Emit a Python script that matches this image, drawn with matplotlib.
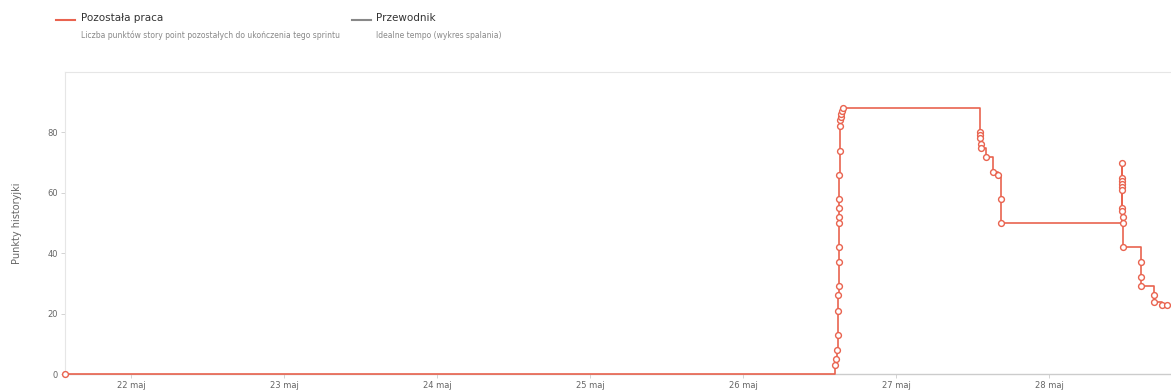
import matplotlib.pyplot as plt
import matplotlib.dates as mdates
import pandas as pd

# remaining work (story points) over time
times = [
    "2023-05-21 13:39",
    "2023-05-26 14:26", "2023-05-26 14:34", "2023-05-26 14:42", "2023-05-26 14:50",
    "2023-05-26 14:55", "2023-05-26 14:58", "2023-05-26 15:00", "2023-05-26 15:02",
    "2023-05-26 15:03", "2023-05-26 15:04", "2023-05-26 15:05", "2023-05-26 15:06",
    "2023-05-26 15:07", "2023-05-26 15:08", "2023-05-26 15:09", "2023-05-26 15:12",
    "2023-05-26 15:14", "2023-05-26 15:18", "2023-05-26 15:22", "2023-05-26 15:30",
    "2023-05-26 15:40",
    "2023-05-27 13:10", "2023-05-27 13:12", "2023-05-27 13:14", "2023-05-27 13:16",
    "2023-05-27 13:18", "2023-05-27 14:06", "2023-05-27 15:09", "2023-05-27 15:59",
    "2023-05-27 16:24", "2023-05-27 16:26",
    "2023-05-28 11:24", "2023-05-28 11:25", "2023-05-28 11:26", "2023-05-28 11:27",
    "2023-05-28 11:28", "2023-05-28 11:29", "2023-05-28 11:30", "2023-05-28 11:31",
    "2023-05-28 11:32", "2023-05-28 11:33", "2023-05-28 11:34",
    "2023-05-28 14:26", "2023-05-28 14:27", "2023-05-28 14:28",
    "2023-05-28 16:29", "2023-05-28 16:31", "2023-05-28 17:41", "2023-05-28 18:27",
]
remaining = [
    0,
    3, 5, 8, 13, 21, 26, 29, 37, 42, 50, 52, 55, 58, 66, 74, 82, 84, 85, 86, 87, 88,
    80, 79, 78, 76, 75, 72, 67, 66, 58, 50,
    70, 65, 64, 63, 62, 61, 55, 54, 52, 50, 42,
    37, 32, 29,
    26, 24, 23, 23,
]
x_start = "2023-05-21 13:39"
x_end = "2023-05-28 19:08"
y_ticks = [0, 20, 40, 60, 80]

red = '#e9634f'
t = pd.to_datetime(times)

fig = plt.figure(figsize=(11.71, 3.92), dpi=100)
ax = fig.add_axes([65 / 1171, 18 / 392, (1171 - 65) / 1171, (374 - 72) / 392])

ax.plot(t, remaining, drawstyle='steps-post', color=red, linewidth=1.2,
        marker='o', markersize=4.2, markerfacecolor='white',
        markeredgecolor=red, markeredgewidth=1.0, clip_on=False, zorder=3)

ax.set_xlim(pd.Timestamp(x_start), pd.Timestamp(x_end))
ax.set_ylim(0, 100)
ax.set_yticks(y_ticks)
ax.xaxis.set_major_locator(mdates.DayLocator())
ax.xaxis.set_major_formatter(mdates.DateFormatter('%d maj'))
ax.tick_params(axis='both', labelsize=6, colors='#666666', length=3, width=0.6,
               color='#cccccc', pad=2)
ax.set_ylabel('Punkty historyjki', fontsize=7, color='#666666', labelpad=18)

for s in ['left', 'top']:
    ax.spines[s].set_color('#e6e6e6')
    ax.spines[s].set_linewidth(0.8)
ax.spines['bottom'].set_color('#cccccc')
ax.spines['bottom'].set_linewidth(1.0)
ax.spines['right'].set_visible(False)

# legend drawn as text on top
fig.add_artist(plt.Line2D([56 / 1171, 75 / 1171], [1 - 20 / 392] * 2, color=red, linewidth=1.5))
fig.text(81 / 1171, 1 - 18 / 392, 'Pozostała praca', fontsize=7.5, color='#333333', va='center')
fig.text(81 / 1171, 1 - 35 / 392, 'Liczba punktów story point pozostałych do ukończenia tego sprintu',
         fontsize=5.5, color='#888888', va='center')
fig.add_artist(plt.Line2D([352 / 1171, 371 / 1171], [1 - 20 / 392] * 2, color='#888888', linewidth=1.5))
fig.text(376 / 1171, 1 - 18 / 392, 'Przewodnik', fontsize=7.5, color='#333333', va='center')
fig.text(376 / 1171, 1 - 35 / 392, 'Idealne tempo (wykres spalania)',
         fontsize=5.5, color='#888888', va='center')

fig.savefig('out.png', dpi=100)
